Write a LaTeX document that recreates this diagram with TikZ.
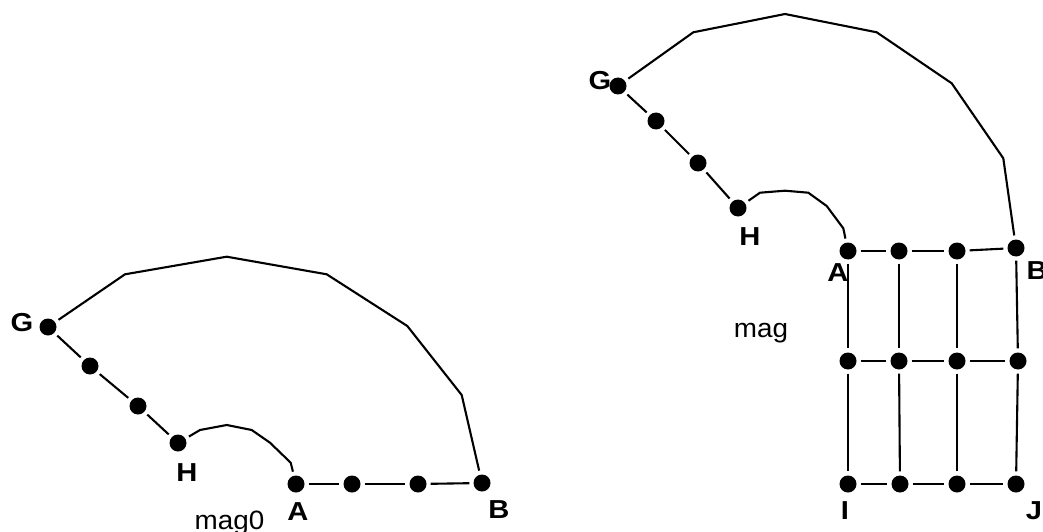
\documentclass[tikz,border=0pt]{standalone}
\usepackage{fontspec}
\setmainfont{Liberation Sans}
\newcommand{\wlab}[1]{\scalebox{1.12}[1]{#1}}
\tikzset{
  dot/.style={circle, fill=black, minimum size=17pt, inner sep=0pt, outer sep=4.2pt},
  lbl/.style={font=\fontsize{26}{30}\selectfont\bfseries, inner sep=0pt},
  captext/.style={font=\fontsize{26.5}{30}\selectfont, inner sep=0pt, anchor=base},
  ln/.style={line width=2.1pt, line join=miter}
}
\begin{document}
\begin{tikzpicture}[x=1pt,y=-1pt]
\useasboundingbox (0,0) rectangle (1043,532);
% ---------- left figure ----------
\node[dot] (lG) at (48,327) {};
\node[dot] (l1) at (90,366) {};
\node[dot] (l2) at (138,406) {};
\node[dot] (lH) at (178,443) {};
\node[dot] (lA) at (296,484) {};
\node[dot] (l3) at (352,484) {};
\node[dot] (l4) at (418,484) {};
\node[dot] (lB) at (482,483) {};
\node[lbl] (lGl) at (22,323) {\wlab{G}};
\node[lbl] (lHl) at (187,472.5) {\wlab{H}};
\node[lbl] (lAl) at (298,512) {\wlab{A}};
\node[lbl] (lBl) at (499,510) {\wlab{B}};
\node[captext] (lmag) at (229.5,529) {\scalebox{1.05}[1]{mag0}};
\draw[ln] (lG) -- (l1);
\draw[ln] (l1) -- (l2);
\draw[ln] (l2) -- (lH);
\draw[ln] (lA) -- (l3);
\draw[ln] (l3) -- (l4);
\draw[ln] (l4) -- (lB);
\draw[ln] (lG) -- (125,274.3) -- (226.7,256.7) -- (326.7,274.3) -- (407.3,326) -- (461.7,395) -- (lB);
\draw[ln] (lH) -- (200,430) -- (226.7,425) -- (251.7,430) -- (270,442.7) -- (290.7,462.7) -- (lA);
% ---------- right figure ----------
\node[dot] (rG) at (618,86) {};
\node[dot] (r1) at (656,121) {};
\node[dot] (r2) at (698,163) {};
\node[dot] (rH) at (738,208) {};
\node[dot] (rA) at (848,251) {};
\node[dot] (t2) at (899,251) {};
\node[dot] (t3) at (957,251) {};
\node[dot] (rB) at (1016,248) {};
\node[dot] (m1) at (848,361) {};
\node[dot] (m2) at (899,361) {};
\node[dot] (m3) at (957,361) {};
\node[dot] (m4) at (1018,361) {};
\node[dot] (rI) at (848,484) {};
\node[dot] (b2) at (900,484) {};
\node[dot] (b3) at (957,484) {};
\node[dot] (rJ) at (1016,484) {};
\node[lbl] (rGl) at (600,81) {\wlab{G}};
\node[lbl] (rHl) at (750,237) {\wlab{H}};
\node[lbl] (rAl) at (838,273) {\wlab{A}};
\node[lbl] (rBl) at (1037,271) {\wlab{B}};
\node[lbl] (rIl) at (845,511) {\wlab{I}};
\node[lbl] (rJl) at (1034,511) {\wlab{J}};
\node[captext] (rmag) at (761,337) {\scalebox{1.05}[1]{mag}};
\draw[ln] (rG) -- (r1);
\draw[ln] (r1) -- (r2);
\draw[ln] (r2) -- (rH);
\draw[ln] (rG) -- (693.3,32.3) -- (785,14) -- (876.7,32.3) -- (951.7,83.3) -- (1003.3,158.3) -- (rB);
\draw[ln] (rH) -- (760,192.7) -- (785,190.7) -- (808.3,192.7) -- (826.7,206) -- (843.3,228.3) -- (rA);
\draw[ln] (rA) -- (t2);
\draw[ln] (t2) -- (t3);
\draw[ln] (t3) -- (rB);
\draw[ln] (m1) -- (m2);
\draw[ln] (m2) -- (m3);
\draw[ln] (m3) -- (m4);
\draw[ln] (rI) -- (b2);
\draw[ln] (b2) -- (b3);
\draw[ln] (b3) -- (rJ);
\draw[ln] (rA) -- (m1);
\draw[ln] (m1) -- (rI);
\draw[ln] (t2) -- (m2);
\draw[ln] (m2) -- (b2);
\draw[ln] (t3) -- (m3);
\draw[ln] (m3) -- (b3);
\draw[ln] (rB) -- (m4);
\draw[ln] (m4) -- (rJ);
\end{tikzpicture}
\end{document}
